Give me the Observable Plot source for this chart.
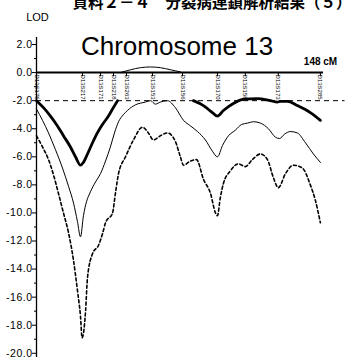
<!DOCTYPE html>
<html><head><meta charset="utf-8">
<script src="https://cdn.jsdelivr.net/npm/d3@7"></script>
<script src="https://cdn.jsdelivr.net/npm/@observablehq/plot@0.6"></script>
<style>
body{margin:0;background:#fff}
#c{width:358px;height:359px;overflow:hidden;position:relative}
#c g[aria-label="y-axis tick label"] text{letter-spacing:0.5px}
</style>
</head><body><div id="c"></div>
<script>
const pageTitle = "資料２－４　分裂病連鎖解析結果（５）";
const chartTitle = "Chromosome 13";
const yLabel = "LOD";
const chromLength = 148;
const threshold = -2;

const yTicks = [2, 0, -2, -4, -6, -8, -10, -12, -14, -16, -18, -20];
const yMinorTicks = [1, -1, -3, -5, -7, -9, -11, -13, -15, -17, -19];

const markerCM = [0, 23.7, 33, 39.7, 46.4, 59.8, 75.3, 93.3, 107.7, 124.7, 146.4];
const markerNames = ["D13S175", "D13S217", "D13S171", "D13S218", "D13S263", "D13S153",
                     "D13S156", "D13S170", "D13S158", "D13S173", "D13S285"];

// thick solid curve (gap where it is hidden between 0 and -2)
const thickCM = [0, 3.6, 7.2, 10.8, 13.9, 17.5, 20.1, 22.7, 24.2, 26.3, 28.9, 31.4, 34.0, 36.6, 39.2, 41.8,
                 60, 80.9, 86.1, 90.7, 93.3, 96.4, 101.5, 106.7, 113.9, 120.6, 124.2, 125.8, 129.4, 134.5, 141.2, 146.4];
const thickLOD = [-2.0, -2.5, -3.1, -3.8, -4.5, -5.3, -6.0, -6.6, -6.4, -5.8, -5.0, -4.3, -3.7, -3.2, -2.6, -2.0,
                  null, -2.0, -2.35, -2.85, -3.1, -2.7, -2.2, -1.9, -1.85, -2.0, -2.1, -2.05, -2.05, -2.35, -2.85, -3.4];

// small positive part above the axis
const arcCM = [43.3, 48.5, 53.6, 58.8, 63.9, 69.1, 74.2];
const arcLOD = [0, 0.2, 0.35, 0.4, 0.35, 0.2, 0.05];

// thin solid curve
const thinCM = [0, 3.1, 6.2, 9.8, 13.4, 16.5, 19.1, 21.1, 22.7, 24.2, 25.8, 27.8, 30.4, 33.0, 35.6, 38.1, 40.2, 42.3,
                44.8, 46.9, 51.0, 56.2, 58.8, 61.3, 63.9, 67.5, 71.6, 75.8, 79.4, 83.0, 87.1, 90.7, 93.3, 95.9,
                99.0, 102.6, 105.7, 108.8, 111.9, 115.5, 119.6, 123.2, 125.3, 127.8, 130.9, 134.5, 138.7, 142.8, 146.4];
const thinLOD = [-2.6, -3.4, -4.3, -5.5, -6.8, -8.1, -9.3, -10.6, -11.7, -10.2, -9.2, -8.5, -7.8, -7.2, -6.3, -5.3, -4.3, -3.5,
                 -3.0, -2.7, -2.3, -2.1, -2.0, -2.25, -2.1, -2.0, -2.5, -3.4, -3.8, -4.2, -4.8, -5.6, -6.0, -5.2,
                 -4.5, -4.1, -3.7, -3.6, -3.5, -3.6, -4.0, -4.6, -4.7, -4.4, -4.2, -4.3, -5.0, -5.8, -6.4];

// dashed curve
const dashCM = [0, 3.1, 6.2, 8.8, 11.3, 13.9, 16.5, 19.1, 21.1, 22.7, 23.5, 24.2, 25.3, 26.3, 28.9, 32.0, 34.0, 35.6,
                39.2, 40.7, 42.3, 45.9, 50.0, 54.6, 57.7, 60.3, 63.9, 67.5, 71.6, 74.2, 75.8, 79.4, 82.5, 86.1,
                89.7, 92.3, 93.3, 94.8, 96.4, 100.0, 104.1, 107.7, 111.3, 115.5, 119.1, 122.2, 124.7, 128.4,
                132.5, 137.1, 141.2, 143.8, 146.4];
const dashLOD = [-4.5, -5.3, -6.2, -7.3, -8.6, -10.0, -11.4, -13.4, -15.5, -17.4, -18.9, -18.6, -17.0, -14.6, -12.9, -12.3, -11.5, -10.7,
                 -10.0, -8.6, -7.2, -6.0, -4.8, -3.9, -4.3, -4.8, -4.5, -4.3, -4.9, -6.0, -6.6, -6.3, -6.2, -7.6,
                 -8.6, -10.0, -10.2, -8.9, -7.9, -7.0, -6.5, -6.7, -6.2, -5.8, -6.2, -7.5, -8.2, -7.2,
                 -6.6, -6.8, -8.0, -9.1, -10.7];

const toRows = (xs, ys) => xs.map((x, i) => ({cM: x, lod: ys[i]}));
const thick = toRows(thickCM, thickLOD);
const arc = toRows(arcCM, arcLOD);
const thin = toRows(thinCM, thinLOD);
const dash = toRows(dashCM, dashLOD);
const markers = markerCM.map((x, i) => ({cM: x, name: markerNames[i]}));

const FONT = "'Liberation Sans', Arial, sans-serif";

const chart = Plot.plot({
  width: 358,
  height: 359,
  marginLeft: 36,
  marginRight: 35,
  marginTop: 37,
  marginBottom: 2,
  style: {fontFamily: FONT, color: "#000", background: "#fff"},
  x: {domain: [0, chromLength], axis: null},
  y: {domain: [-20.3, 2.5]},
  marks: [
    Plot.axisY({ticks: yTicks, tickFormat: d => d.toFixed(1), tickSize: 4, tickPadding: 0,
                fontSize: 10.5, label: null, stroke: "#000", strokeWidth: 1}),
    Plot.axisY({ticks: yMinorTicks, tickFormat: () => "", tickSize: 2, label: null, stroke: "#000"}),
    Plot.ruleX([0], {stroke: "#000", strokeWidth: 1.3}),
    Plot.ruleY([threshold], {x1: 0, x2: chromLength * 1.075, stroke: "#000", strokeWidth: 1, strokeDasharray: "5,4"}),
    Plot.ruleY([0], {x1: 0, x2: chromLength, stroke: "#000", strokeWidth: 2}),
    Plot.ruleX(markers, {x: "cM", y1: 0, y2: -0.3, stroke: "#000", strokeWidth: 1}),
    Plot.text(markers, {x: "cM", y: 0, text: "name", rotate: 90, textAnchor: "start", dy: 2,
                        fontSize: 6, fill: "#000", fontFamily: FONT}),
    Plot.line(arc, {x: "cM", y: "lod", stroke: "#000", strokeWidth: 1, curve: "monotone-x"}),
    Plot.line(thin, {x: "cM", y: "lod", stroke: "#000", strokeWidth: 1, curve: "monotone-x"}),
    Plot.line(dash, {x: "cM", y: "lod", stroke: "#000", strokeWidth: 1.6, strokeDasharray: "3,2.5", curve: "monotone-x"}),
    Plot.line(thick, {x: "cM", y: "lod", stroke: "#000", strokeWidth: 2.8, curve: "monotone-x"}),
    Plot.text([`${chromLength} cM`], {x: chromLength, y: 0, text: d => d, dy: -11, dx: -3,
                        textAnchor: "middle", fontSize: 10, fontWeight: "bold", fill: "#000"}),
    Plot.text([chartTitle], {frameAnchor: "top", text: d => d, dx: -3, dy: -0.5, fontSize: 26, fill: "#000"}),
    Plot.text([yLabel], {frameAnchor: "top-left", text: d => d, textAnchor: "middle", dx: 1, dy: -24,
                        fontSize: 11, fill: "#000"}),
    Plot.text([pageTitle], {frameAnchor: "top", text: d => d, dx: 32, dy: -41, fontSize: 15.5,
                        fontWeight: "bold", fill: "#000", fontFamily: "'Noto Sans CJK JP', sans-serif"})
  ]
});
document.getElementById("c").appendChild(chart);
</script></body></html>
